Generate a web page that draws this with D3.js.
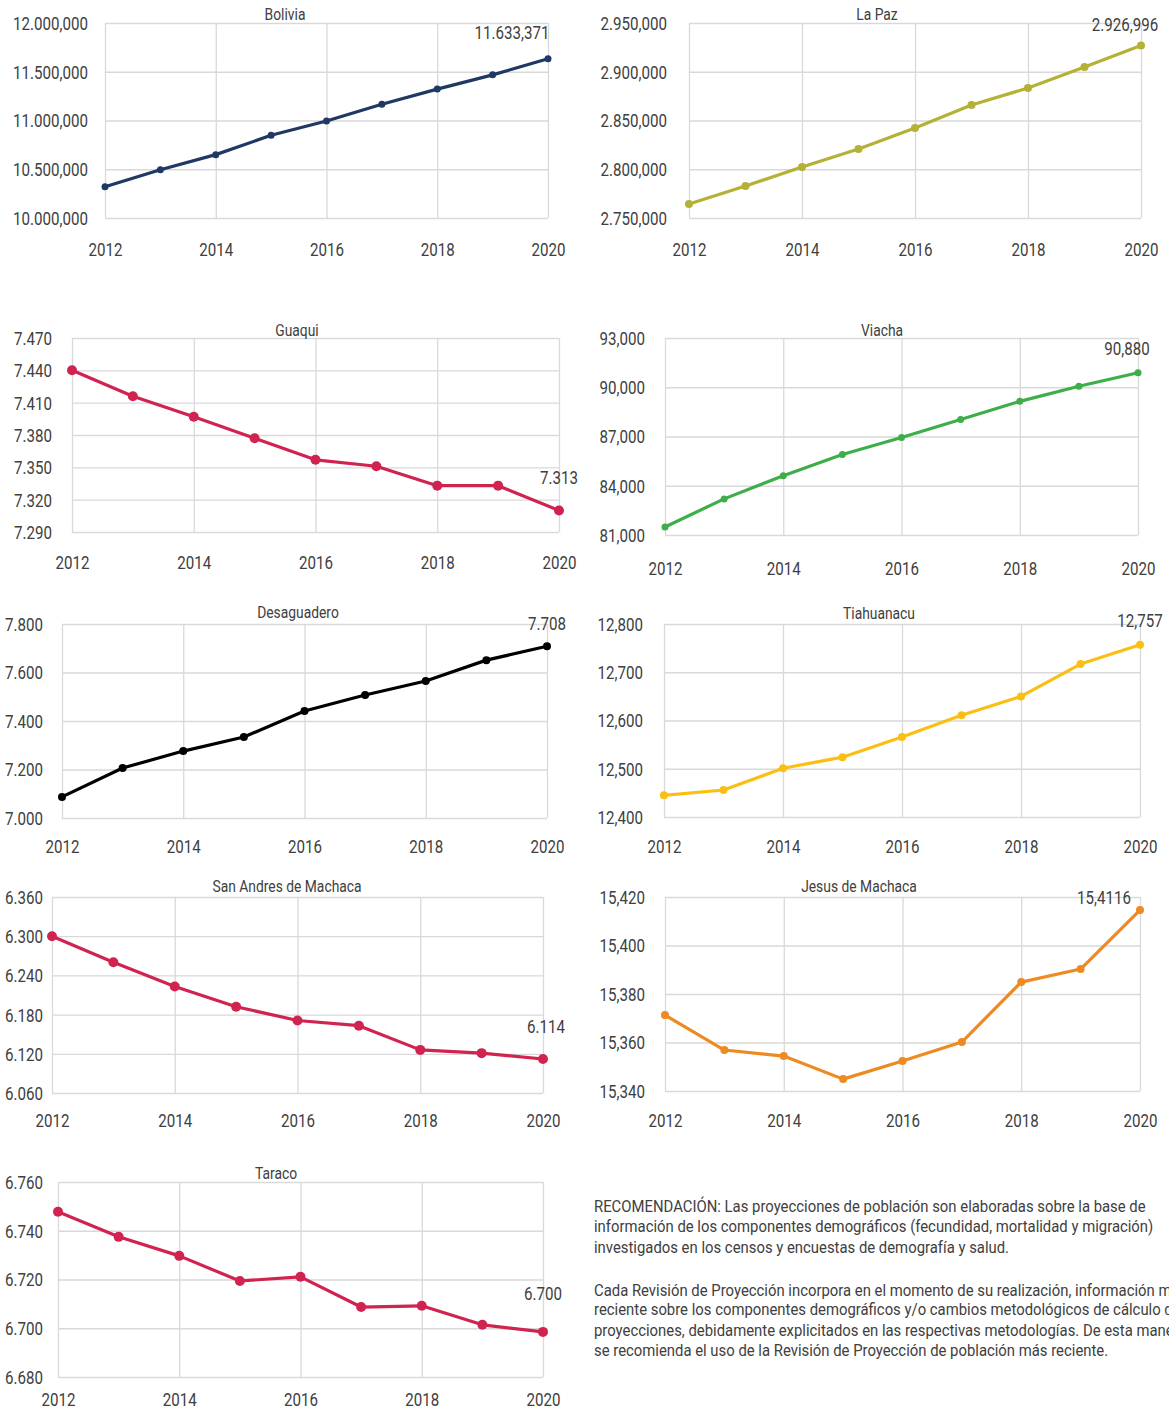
<!DOCTYPE html>
<html><head><meta charset="utf-8">
<script src="https://cdn.jsdelivr.net/npm/d3@7"></script>
<style>
html,body{margin:0;padding:0;background:#fff;overflow:hidden}
svg{display:block}
</style></head>
<body>
<script>
// ---------- DATA ----------
const years = [2012, 2013, 2014, 2015, 2016, 2017, 2018, 2019, 2020];
const yearTicks = [2012, 2014, 2016, 2018, 2020];

const boliviaValues = [10320000, 10495000, 10650000, 10848000, 10995000, 11167000, 11322000, 11468000, 11633371];
const boliviaTicks = [10000000, 10500000, 11000000, 11500000, 12000000];
const boliviaTickLabels = ["10.000,000", "10.500,000", "11.000,000", "11.500,000", "12.000,000"];

const laPazValues = [2764400, 2782800, 2802300, 2820800, 2842300, 2865900, 2883300, 2904900, 2926996];
const laPazTicks = [2750000, 2800000, 2850000, 2900000, 2950000];
const laPazTickLabels = ["2.750,000", "2.800,000", "2.850,000", "2.900,000", "2.950,000"];

const guaquiValues = [7440, 7416, 7397, 7377, 7357, 7351, 7333, 7333, 7310];
const guaquiTicks = [7290, 7320, 7350, 7380, 7410, 7440, 7470];
const guaquiTickLabels = ["7.290", "7.320", "7.350", "7.380", "7.410", "7.440", "7.470"];

const viachaValues = [81490, 83200, 84610, 85900, 86940, 88040, 89140, 90060, 90880];
const viachaTicks = [81000, 84000, 87000, 90000, 93000];
const viachaTickLabels = ["81,000", "84,000", "87,000", "90,000", "93,000"];

const desaguaderoValues = [7087, 7206, 7276, 7334, 7441, 7507, 7565, 7651, 7708];
const desaguaderoTicks = [7000, 7200, 7400, 7600, 7800];
const desaguaderoTickLabels = ["7.000", "7.200", "7.400", "7.600", "7.800"];

const tiahuanacuValues = [12445, 12456, 12501, 12524, 12566, 12611, 12650, 12717, 12757];
const tiahuanacuTicks = [12400, 12500, 12600, 12700, 12800];
const tiahuanacuTickLabels = ["12,400", "12,500", "12,600", "12,700", "12,800"];

const sanAndresValues = [6300, 6260, 6223, 6192, 6171, 6163, 6126, 6121, 6112];
const sanAndresTicks = [6060, 6120, 6180, 6240, 6300, 6360];
const sanAndresTickLabels = ["6.060", "6.120", "6.180", "6.240", "6.300", "6.360"];

const jesusValues = [15371.3, 15356.9, 15354.4, 15344.9, 15352.4, 15360.2, 15384.9, 15390.3, 15414.6];
const jesusTicks = [15340, 15360, 15380, 15400, 15420];
const jesusTickLabels = ["15,340", "15,360", "15,380", "15,400", "15,420"];

const taracoValues = [6747.8, 6737.5, 6729.7, 6719.4, 6721.1, 6708.7, 6709.2, 6701.4, 6698.5];
const taracoTicks = [6680, 6700, 6720, 6740, 6760];
const taracoTickLabels = ["6.680", "6.700", "6.720", "6.740", "6.760"];

const panelTitles = ["Bolivia", "La Paz", "Guaqui", "Viacha", "Desaguadero", "Tiahuanacu", "San Andres de Machaca", "Jesus de Machaca", "Taraco"];
const lastLabels = ["11.633,371", "2.926,996", "7.313", "90,880", "7.708", "12,757", "6.114", "15,4116", "6.700"];
const seriesColors = ["#203864", "#b3b236", "#d0234f", "#3dae49", "#000000", "#fbbf14", "#d0234f", "#ee8a22", "#d0234f"];

const noteLines = [
  "RECOMENDACIÓN: Las proyecciones de población son elaboradas sobre la base de",
  "información de los componentes demográficos (fecundidad, mortalidad y migración)",
  "investigados en los censos y encuestas de demografía y salud.",
  "Cada Revisión de Proyección incorpora en el momento de su realización, información más",
  "reciente sobre los componentes demográficos y/o cambios metodológicos de cálculo de las",
  "proyecciones, debidamente explicitados en las respectivas metodologías. De esta manera",
  "se recomienda el uso de la Revisión de Proyección de población más reciente."
];

// ---------- LAYOUT ----------
const FONT = "Roboto, 'Liberation Sans', sans-serif";
const K = 0.84; // horizontal condensing of text
const layouts = [
  {x0:105, x1:548, yT:23,  yB:218,  yLx:88,  xLy:250,  tX:285, tY:14,   lDx:-36, lDy:-26, r:3.5},
  {x0:689, x1:1141,yT:23,  yB:218,  yLx:667, xLy:250,  tX:877, tY:14,   lDx:-16, lDy:-21, r:4},
  {x0:72,  x1:559, yT:338, yB:532,  yLx:52,  xLy:563,  tX:297, tY:330,  lDx:0,   lDy:-33, r:5},
  {x0:665, x1:1138,yT:338, yB:535,  yLx:645, xLy:569,  tX:882, tY:330,  lDx:-11, lDy:-24, r:3.5},
  {x0:62,  x1:547, yT:624, yB:818,  yLx:43,  xLy:847,  tX:298, tY:612,  lDx:0,   lDy:-23, r:4},
  {x0:664, x1:1140,yT:624, yB:817,  yLx:643, xLy:847,  tX:879, tY:613,  lDx:0,   lDy:-24, r:4},
  {x0:52,  x1:543, yT:897, yB:1093, yLx:43,  xLy:1121, tX:287, tY:886,  lDx:3,   lDy:-32, r:5},
  {x0:665, x1:1140,yT:897, yB:1091, yLx:645, xLy:1121, tX:859, tY:886,  lDx:-36, lDy:-12, r:4},
  {x0:58,  x1:543, yT:1182,yB:1377, yLx:43,  xLy:1400, tX:276, tY:1173, lDx:0,   lDy:-38, r:5}
];
const valueSets = [boliviaValues, laPazValues, guaquiValues, viachaValues, desaguaderoValues, tiahuanacuValues, sanAndresValues, jesusValues, taracoValues];
const tickSets = [boliviaTicks, laPazTicks, guaquiTicks, viachaTicks, desaguaderoTicks, tiahuanacuTicks, sanAndresTicks, jesusTicks, taracoTicks];
const tickLabelSets = [boliviaTickLabels, laPazTickLabels, guaquiTickLabels, viachaTickLabels, desaguaderoTickLabels, tiahuanacuTickLabels, sanAndresTickLabels, jesusTickLabels, taracoTickLabels];

const svg = d3.select("body").append("svg").attr("width", 1169).attr("height", 1410);
svg.append("rect").attr("width", 1169).attr("height", 1410).attr("fill", "#fff");

const GRID = "#d9d9d9", TXT = "#404040";

// place a condensed text: anchor at (x,y)
function ctext(parent, x, y, str, size, anchor, k) {
  return parent.append("text")
    .attr("transform", `translate(${x},${y}) scale(${k || K},1)`)
    .attr("text-anchor", anchor).attr("dy", "0.35em")
    .attr("font-family", FONT).attr("font-size", size).attr("fill", TXT).text(str);
}

layouts.forEach((L, i) => {
  const vals = valueSets[i], ticks = tickSets[i], tl = tickLabelSets[i];
  const x = d3.scaleLinear().domain([years[0], years[years.length - 1]]).range([L.x0, L.x1]);
  const y = d3.scaleLinear().domain([ticks[0], ticks[ticks.length - 1]]).range([L.yB, L.yT]);
  const g = svg.append("g");

  // horizontal grid (y axis)
  const yAxis = d3.axisLeft(y).tickValues(ticks).tickSize(-(L.x1 - L.x0)).tickFormat((d, k) => tl[k]);
  const ya = g.append("g").attr("transform", `translate(${L.x0},0)`).call(yAxis);
  ya.select(".domain").remove();
  ya.selectAll(".tick line").attr("stroke", GRID).attr("stroke-width", 1.3);
  ya.selectAll(".tick text")
    .attr("x", -(L.x0 - L.yLx) / K).attr("transform", `scale(${K},1)`)
    .attr("fill", TXT).attr("font-size", 18).attr("font-family", FONT).attr("dy", "0.36em");

  // vertical grid (x axis)
  const xAxis = d3.axisBottom(x).tickValues(yearTicks).tickSize(-(L.yB - L.yT)).tickFormat(d3.format("d"));
  const xa = g.append("g").attr("transform", `translate(0,${L.yB})`).call(xAxis);
  xa.select(".domain").remove();
  xa.selectAll(".tick line").attr("stroke", GRID).attr("stroke-width", 1.3);
  xa.selectAll(".tick text")
    .attr("y", L.xLy - L.yB).attr("transform", `scale(${K},1)`)
    .attr("fill", TXT).attr("font-size", 18).attr("font-family", FONT).attr("dy", "0.36em");

  // title
  ctext(g, L.tX, L.tY, panelTitles[i], 16.5, "middle");

  // line
  const line = d3.line().x((d, k) => x(years[k])).y(d => y(d));
  g.append("path").datum(vals).attr("d", line).attr("fill", "none").attr("stroke", seriesColors[i])
    .attr("stroke-width", 3.2).attr("stroke-linejoin", "round").attr("stroke-linecap", "round");
  g.selectAll("circle.pt").data(vals).join("circle").attr("class", "pt")
    .attr("cx", (d, k) => x(years[k])).attr("cy", d => y(d)).attr("r", L.r).attr("fill", seriesColors[i]);

  // last value label
  const last = vals[vals.length - 1];
  ctext(g, x(years[years.length - 1]) + L.lDx, y(last) + L.lDy, lastLabels[i], 18, "middle");
});

// note text, condensed so the first line spans ~552px like the reference
const noteY = [1206, 1226, 1247, 1290, 1309, 1330, 1350];
const noteG = svg.append("g");
const probe = noteG.append("text").attr("font-family", FONT).attr("font-size", 16).text(noteLines[0]);
const noteK = 552 / probe.node().getComputedTextLength();
probe.remove();
noteLines.forEach((s, k) => ctext(noteG, 594, noteY[k], s, 16, "start", noteK));
</script>
</body></html>
